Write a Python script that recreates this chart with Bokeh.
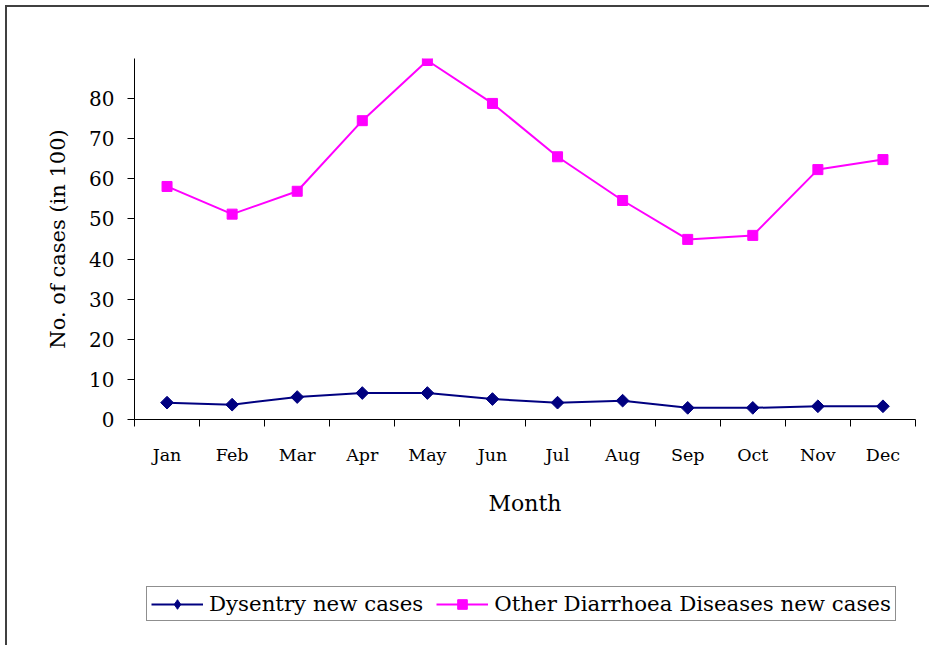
from bokeh.plotting import figure
from bokeh.layouts import column
from bokeh.models import Range1d, FixedTicker, Legend, LegendItem
from bokeh.embed import file_html
from bokeh.resources import INLINE

months = ["Jan", "Feb", "Mar", "Apr", "May", "Jun", "Jul", "Aug", "Sep", "Oct", "Nov", "Dec"]
dysentery = [4.2, 3.7, 5.6, 6.6, 6.6, 5.1, 4.2, 4.7, 2.9, 2.9, 3.3, 3.3]
other_diarrhoea = [58.1, 51.2, 56.9, 74.5, 89.5, 78.8, 65.5, 54.6, 44.9, 45.9, 62.3, 64.8]
y_ticks = [0, 10, 20, 30, 40, 50, 60, 70, 80]
series_names = ["Dysentry new cases", "Other Diarrhoea Diseases new cases"]

FONT = "DejaVu Serif"
NAVY = "#000080"
MAGENTA = "#FF00FF"

x = [i + 0.5 for i in range(len(months))]

p = figure(width=922, height=553, output_backend="svg", toolbar_location=None,
           x_range=Range1d(0, len(months)), y_range=Range1d(0, 90),
           min_border_left=127, min_border_right=14, min_border_top=51,
           min_border_bottom=141)
p.outline_line_color = None
p.xgrid.grid_line_color = None
p.ygrid.grid_line_color = None

# x axis: labels centered, ticks at category boundaries
p.xaxis.ticker = FixedTicker(ticks=x, minor_ticks=list(range(len(months) + 1)))
p.xaxis.major_label_overrides = {v: m for v, m in zip(x, months)}
p.xaxis.major_tick_out = 0
p.xaxis.major_tick_in = 0
p.xaxis.minor_tick_out = 7
p.xaxis.minor_tick_in = 0
p.xaxis.minor_tick_line_color = "black"
p.xaxis.major_label_standoff = 18
p.xaxis.major_label_text_font = FONT
p.xaxis.major_label_text_font_size = "17.5px"
p.xaxis.major_label_text_color = "black"
p.xaxis.axis_label = "Month"
p.xaxis.axis_label_text_font = FONT
p.xaxis.axis_label_text_font_style = "normal"
p.xaxis.axis_label_text_font_size = "22px"
p.xaxis.axis_label_text_color = "black"
p.xaxis.axis_label_standoff = 23
p.xaxis.axis_line_color = "black"

p.yaxis.ticker = FixedTicker(ticks=y_ticks, minor_ticks=[])
p.yaxis.major_tick_out = 7
p.yaxis.major_tick_in = 0
p.yaxis.major_tick_line_color = "black"
p.yaxis.major_label_standoff = 13
p.yaxis.major_label_text_font = FONT
p.yaxis.major_label_text_font_size = "20px"
p.yaxis.major_label_text_color = "black"
p.yaxis.axis_label = "No. of cases (in 100)"
p.yaxis.axis_label_text_font = FONT
p.yaxis.axis_label_text_font_style = "normal"
p.yaxis.axis_label_text_font_size = "21px"
p.yaxis.axis_label_text_color = "black"
p.yaxis.axis_label_standoff = 16
p.yaxis.axis_line_color = "black"

p.line(x, dysentery, line_color=NAVY, line_width=2)
p.scatter(x, dysentery, marker="square", angle=0.7854, size=9,
          fill_color=NAVY, line_color=NAVY)
p.line(x, other_diarrhoea, line_color=MAGENTA, line_width=2)
p.scatter(x, other_diarrhoea, marker="square", size=10,
          fill_color=MAGENTA, line_color=MAGENTA)

# legend strip (second figure below the chart); its series lie outside its
# y range so only the legend shows
lp = figure(width=922, height=85, output_backend="svg", toolbar_location=None,
            x_range=Range1d(0, len(months)), y_range=Range1d(0, 1),
            x_axis_location=None, y_axis_location=None,
            min_border_left=0, min_border_right=0, min_border_top=0, min_border_bottom=0)
lp.outline_line_color = None
lp.xgrid.grid_line_color = None
lp.ygrid.grid_line_color = None
r1 = lp.line(x, dysentery, line_color=NAVY, line_width=2)
s1 = lp.scatter(x, dysentery, marker="diamond", size=15, fill_color=NAVY, line_color=NAVY)
r2 = lp.line(x, other_diarrhoea, line_color=MAGENTA, line_width=2)
s2 = lp.scatter(x, other_diarrhoea, marker="square", size=10, fill_color=MAGENTA, line_color=MAGENTA)

legend = Legend(items=[LegendItem(label=series_names[0], renderers=[r1, s1]),
                       LegendItem(label=series_names[1], renderers=[r2, s2])],
                orientation="horizontal", location=(12, 24),
                label_text_font=FONT, label_text_font_size="21.3px", label_text_color="black",
                glyph_width=52, glyph_height=24, label_standoff=6, spacing=13,
                padding=4, margin=0, border_line_color="#202020", border_line_width=1,
                label_height=16)
lp.add_layout(legend, "center")

layout = column(p, lp, spacing=0,
                styles={"border-top": "2px solid #404040", "border-left": "2px solid #404040",
                        "margin-left": "5px", "margin-top": "5px"})

open("out.html", "w").write(file_html(layout, INLINE))
